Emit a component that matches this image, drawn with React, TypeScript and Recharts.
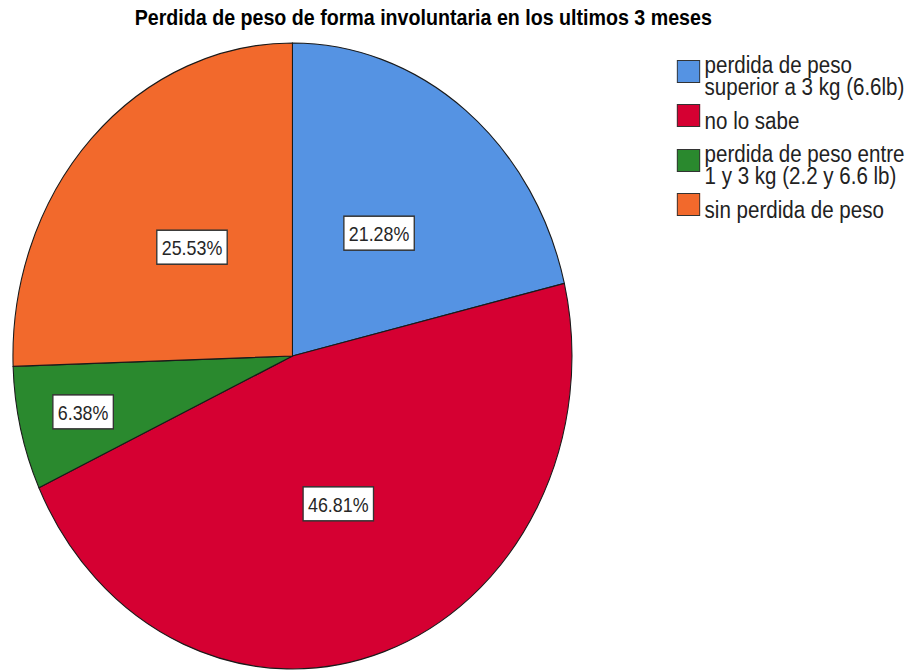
import React from "react";
import { Cell, Legend, Pie, PieChart } from "recharts";

// categorias y conteos (n = 47)
const categories = [
  "perdida de peso\nsuperior a 3 kg (6.6lb)",
  "no lo sabe",
  "perdida de peso entre\n1 y 3 kg (2.2 y 6.6 lb)",
  "sin perdida de peso",
];
const counts = [10, 22, 3, 12];
const colors = ["#5593E3", "#D50032", "#2A892E", "#F2692C"];
const title = "Perdida de peso de forma involuntaria en los ultimos 3 meses";

const FONT = "'Liberation Sans', Arial, sans-serif";
const SX = 0.893; // the original export is squeezed horizontally
const W = 1028;
const H = 671;
const RADIAN = Math.PI / 180;

const data = categories.map((name, i) => ({ name, value: counts[i] }));

const charW = (ch: string) => {
  if (ch === "%") return 0.889;
  if (ch === ".") return 0.278;
  return 0.556;
};

function renderLabel(props: any) {
  const { cx, cy, midAngle, outerRadius, percent } = props;
  const r = outerRadius * (percent < 0.1 ? 0.77 : 0.5);
  const x = cx + r * Math.cos(-midAngle * RADIAN);
  const y = cy + r * Math.sin(-midAngle * RADIAN);
  const txt = `${(percent * 100).toFixed(2)}%`;
  const fs = 20;
  const w = txt.split("").reduce((s, c) => s + charW(c), 0) * fs + 11;
  const h = 34;
  return (
    <g>
      <rect x={x - w / 2} y={y - h / 2} width={w} height={h} fill="#fff" stroke="#333" strokeWidth={1.5} />
      <text
        x={x}
        y={y + 1}
        textAnchor="middle"
        dominantBaseline="central"
        fontFamily={FONT}
        fontSize={fs}
        fill="#262626"
      >
        {txt}
      </text>
    </g>
  );
}

function renderLegend(props: any) {
  const payload = [...(props.payload || [])].sort(
    (a: any, b: any) => categories.indexOf(a.value) - categories.indexOf(b.value)
  );
  return (
    <div style={{ display: "flex", flexDirection: "column", gap: 11 }}>
      {payload.map((p: any, i: number) => (
        <div key={i} style={{ display: "flex", alignItems: "center" }}>
          <span
            style={{
              width: 26,
              height: 23,
              boxSizing: "border-box",
              background: p.color,
              border: "1.5px solid #333",
              flex: "none",
              position: "relative",
              top: -5,
              marginRight: 5,
            }}
          />
          <span
            style={{
              fontFamily: FONT,
              fontSize: 23,
              lineHeight: "22px",
              color: "#222",
              whiteSpace: "pre-line",
            }}
          >
            {p.value}
          </span>
        </div>
      ))}
    </div>
  );
}

export default function App() {
  return (
    <div style={{ width: 918, height: 671, overflow: "hidden", position: "relative", background: "#fff" }}>
      <style>{`body{margin:0}`}</style>
      <div style={{ width: W, height: H, transform: `scaleX(${SX})`, transformOrigin: "0 0" }}>
        <PieChart width={W} height={H} margin={{ top: 0, right: 0, bottom: 0, left: 0 }}>
          <text
            x={474}
            y={25}
            textAnchor="middle"
            fontFamily={FONT}
            fontWeight="bold"
            fontSize={22}
            fill="#000"
          >
            {title}
          </text>
          <Pie
            data={data}
            dataKey="value"
            nameKey="name"
            cx={327.5}
            cy={356}
            outerRadius={313}
            startAngle={90}
            endAngle={-270}
            stroke="#1a1a1a"
            strokeWidth={1.2}
            label={renderLabel}
            labelLine={false}
            isAnimationActive={false}
          >
            {data.map((d, i) => (
              <Cell key={d.name} fill={colors[i]} />
            ))}
          </Pie>
          <Legend
            content={renderLegend}
            itemSorter={null}
            layout="vertical"
            verticalAlign="top"
            align="right"
            wrapperStyle={{ position: "absolute", left: 758, top: 54, width: 270 }}
          />
        </PieChart>
      </div>
    </div>
  );
}
